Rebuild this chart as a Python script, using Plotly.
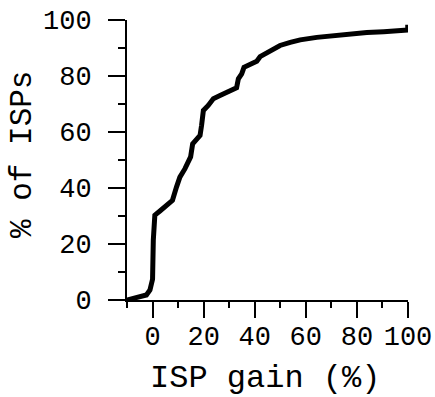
import plotly.graph_objects as go

gain = [-10, -2.4, -1, 0, 0.3, 0.9, 2.9, 5.5, 7.8, 9.4, 10.7, 12.7, 13.7, 14.9, 15.7,
        17.3, 18.6, 19.2, 19.9, 21.8, 23.8, 26.4, 29.7, 32.9, 33.6, 34.9, 35.8, 38.2,
        40.8, 42.1, 46, 49.9, 53.9, 57.8, 64.3, 70.8, 77.4, 83.9, 90.5, 99.9, 99.9]
pct = [0, 1.8, 3.6, 7.4, 21.4, 30.3, 31.8, 33.8, 35.6, 40.4, 43.9, 46.9, 49.3, 51.1, 55.8,
       57.6, 58.8, 62.4, 67.7, 69.5, 71.9, 73, 74.2, 75.8, 79, 80.8, 83.1, 84.1,
       85.3, 86.9, 88.8, 90.9, 92, 92.9, 93.8, 94.5, 95, 95.5, 95.8, 96.4, 98.3]

FONT = "Liberation Mono"
TICK_SIZE = 27

fig = go.Figure(go.Scatter(x=gain, y=pct, mode="lines",
                           line=dict(color="black", width=5),
                           cliponaxis=False, showlegend=False))

axis_common = dict(showline=True, linecolor="black", linewidth=2,
                   ticks="outside", tickcolor="black", tickwidth=2,
                   showgrid=False, zeroline=False, automargin=False,
                   ticklabeloverflow="allow",
                   tickfont=dict(family=FONT, size=TICK_SIZE, color="black"))

fig.update_xaxes(range=[-10, 100], tick0=0, dtick=20, ticklen=16, ticklabelstandoff=-5,
                 minor=dict(dtick=10, tick0=0, ticklen=6, ticks="outside",
                            tickcolor="black", tickwidth=2, showgrid=False),
                 **axis_common)
fig.update_yaxes(range=[0, 100], tick0=0, dtick=20, ticklen=17, ticklabelstandoff=11,
                 minor=dict(dtick=10, tick0=0, ticklen=7, ticks="outside",
                            tickcolor="black", tickwidth=2, showgrid=False),
                 **axis_common)

fig.update_layout(
    width=435, height=397, margin=dict(l=127, r=27, t=20, b=97),
    plot_bgcolor="white", paper_bgcolor="white",
    annotations=[
        dict(text="ISP gain (%)", xref="paper", yref="paper", x=0.491, y=0,
             yshift=-78, xanchor="center", yanchor="middle", showarrow=False,
             font=dict(family=FONT, size=32, color="black")),
        dict(text="% of ISPs", xref="paper", yref="paper", x=0, y=0.518,
             xshift=-104, xanchor="center", yanchor="middle", showarrow=False,
             textangle=-90, font=dict(family=FONT, size=31, color="black")),
    ],
)

# remove the default 8px page margin so the figure sits at the window's corner
fig.write_html("out.html", config={"displayModeBar": False},
               post_script="document.body.style.margin='0';")
